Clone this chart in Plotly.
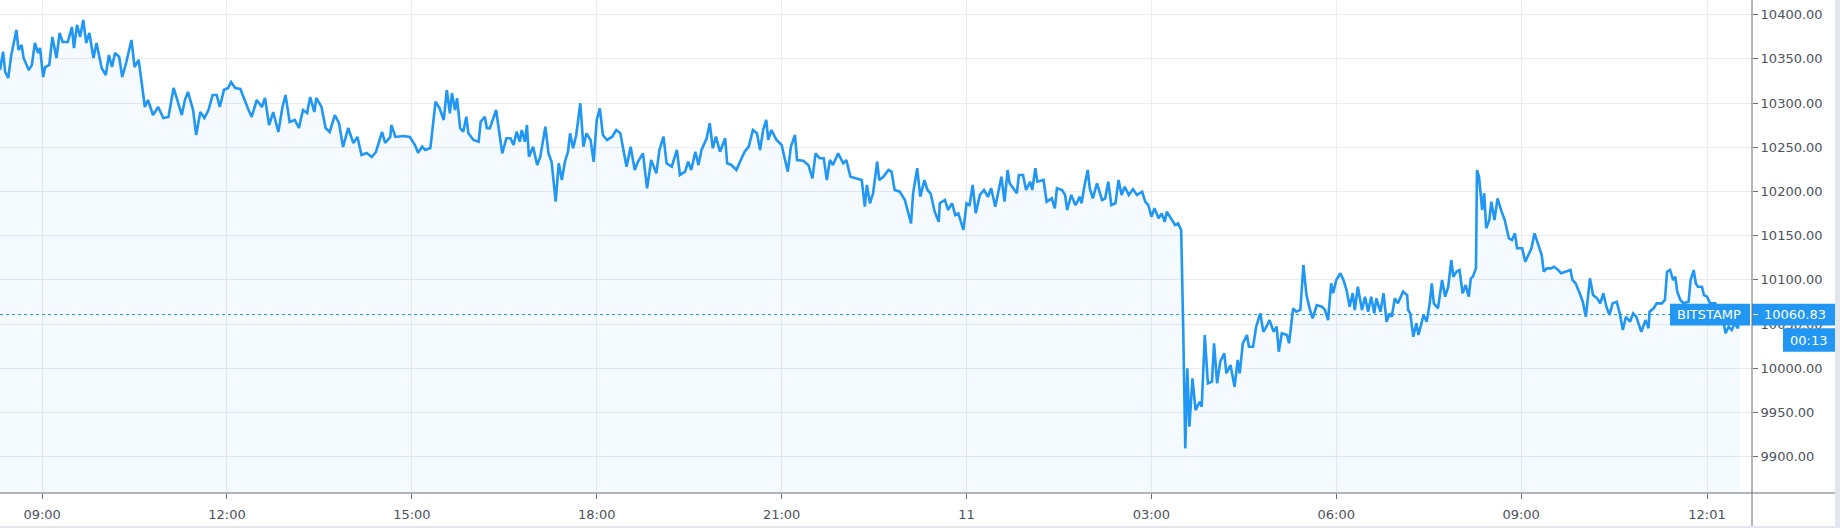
import plotly.graph_objects as go
from datetime import datetime, timedelta

# ---------------- data ----------------
START_DATE = "2019-09-10"

times = [
    "08:19", "08:22", "08:24", "08:27", "08:30", "08:35", "08:37", "08:40", "08:42", "08:47",
    "08:50", "08:53", "08:56", "08:58", "09:01", "09:03", "09:07", "09:10", "09:14", "09:17",
    "09:20", "09:25", "09:29", "09:31", "09:34", "09:37", "09:40", "09:43", "09:46", "09:50",
    "09:53", "09:58", "10:02", "10:05", "10:08", "10:11", "10:15", "10:18", "10:22", "10:27",
    "10:30", "10:34", "10:37", "10:40", "10:43", "10:48", "10:53", "10:58", "11:03", "11:08",
    "11:11", "11:16", "11:19", "11:22", "11:27", "11:30", "11:34", "11:38", "11:42", "11:46",
    "11:50", "11:53", "11:57", "12:01", "12:04", "12:08", "12:13", "12:18", "12:21", "12:24",
    "12:29", "12:34", "12:37", "12:41", "12:45", "12:50", "12:54", "12:57", "13:01", "13:06",
    "13:10", "13:14", "13:18", "13:21", "13:25", "13:27", "13:32", "13:36", "13:40", "13:45",
    "13:49", "13:53", "13:58", "14:03", "14:07", "14:11", "14:16", "14:21", "14:25", "14:31",
    "14:34", "14:39", "14:40", "14:44", "14:52", "14:58", "15:03", "15:06", "15:10", "15:13",
    "15:18", "15:20", "15:23", "15:27", "15:31", "15:34", "15:37", "15:39", "15:42", "15:44",
    "15:47", "15:50", "15:53", "15:55", "16:00", "16:05", "16:07", "16:11", "16:13", "16:16",
    "16:22", "16:25", "16:28", "16:32", "16:36", "16:39", "16:42", "16:45", "16:47", "16:50",
    "16:52", "16:54", "16:58", "17:02", "17:05", "17:10", "17:13", "17:16", "17:20", "17:23",
    "17:26", "17:29", "17:32", "17:34", "17:37", "17:40", "17:44", "17:47", "17:50", "17:54",
    "17:57", "18:00", "18:03", "18:06", "18:10", "18:15", "18:19", "18:23", "18:26", "18:29",
    "18:33", "18:37", "18:40", "18:45", "18:49", "18:53", "18:58", "19:01", "19:05", "19:08",
    "19:13", "19:18", "19:21", "19:26", "19:29", "19:32", "19:36", "19:39", "19:42", "19:47",
    "19:50", "19:53", "19:56", "20:00", "20:05", "20:07", "20:11", "20:16", "20:21", "20:24",
    "20:28", "20:32", "20:36", "20:39", "20:42", "20:45", "20:47", "20:50", "20:55", "21:00",
    "21:06", "21:09", "21:13", "21:15", "21:21", "21:26", "21:30", "21:33", "21:37", "21:41",
    "21:44", "21:47", "21:50", "21:55", "22:00", "22:03", "22:07", "22:13", "22:18", "22:21",
    "22:23", "22:26", "22:29", "22:33", "22:35", "22:39", "22:44", "22:47", "22:50", "22:55",
    "23:00", "23:06", "23:08", "23:12", "23:15", "23:19", "23:22", "23:25", "23:29", "23:33",
    "23:34", "23:39", "23:42", "23:46", "23:49", "23:52", "23:57", "00:00", "00:03", "00:06",
    "00:09", "00:13", "00:17", "00:21", "00:24", "00:28", "00:32", "00:34", "00:37", "00:40",
    "00:42", "00:49", "00:51", "00:55", "00:58", "01:02", "01:04", "01:07", "01:09", "01:15",
    "01:18", "01:23", "01:26", "01:28", "01:33", "01:36", "01:38", "01:42", "01:46", "01:48",
    "01:50", "01:52", "01:55", "01:58", "02:00", "02:03", "02:07", "02:12", "02:15", "02:18",
    "02:21", "02:25", "02:28", "02:31", "02:34", "02:38", "02:42", "02:46", "02:51", "02:54",
    "02:57", "03:00", "03:03", "03:07", "03:10", "03:13", "03:15", "03:20", "03:23", "03:26",
    "03:29", "03:31", "03:33", "03:35", "03:37", "03:40", "03:43", "03:47", "03:49", "03:52",
    "03:55", "03:59", "04:01", "04:04", "04:07", "04:11", "04:13", "04:17", "04:21", "04:24",
    "04:26", "04:29", "04:33", "04:35", "04:39", "04:42", "04:46", "04:49", "04:52", "04:55",
    "04:59", "05:02", "05:04", "05:07", "05:12", "05:14", "05:18", "05:21", "05:25", "05:28",
    "05:31", "05:34", "05:37", "05:41", "05:46", "05:49", "05:52", "05:55", "05:57", "06:00",
    "06:04", "06:07", "06:10", "06:13", "06:16", "06:18", "06:21", "06:25", "06:28", "06:31",
    "06:34", "06:37", "06:39", "06:43", "06:46", "06:49", "06:52", "06:54", "06:57", "07:00",
    "07:05", "07:09", "07:10", "07:12", "07:15", "07:18", "07:20", "07:25", "07:28", "07:31",
    "07:33", "07:35", "07:39", "07:43", "07:46", "07:49", "07:52", "07:54", "07:57", "08:00",
    "08:03", "08:06", "08:09", "08:11", "08:13", "08:16", "08:17", "08:19", "08:22", "08:24",
    "08:26", "08:29", "08:31", "08:34", "08:37", "08:41", "08:44", "08:48", "08:51", "08:54",
    "08:56", "09:01", "09:04", "09:07", "09:10", "09:13", "09:17", "09:20", "09:22", "09:25",
    "09:29", "09:32", "09:36", "09:39", "09:43", "09:48", "09:50", "09:53", "09:57", "10:00",
    "10:03", "10:05", "10:07", "10:10", "10:14", "10:17", "10:20", "10:23", "10:26", "10:29",
    "10:33", "10:36", "10:39", "10:42", "10:46", "10:49", "10:52", "10:57", "11:01", "11:04",
    "11:05", "11:09", "11:12", "11:17", "11:20", "11:22", "11:25", "11:28", "11:30", "11:32",
    "11:35", "11:38", "11:43", "11:45", "11:48", "11:50", "11:52", "11:56", "11:58", "12:01",
    "12:04", "12:09", "12:12", "12:15", "12:19", "12:22", "12:25", "12:28", "12:31", "12:33",
]

prices = [
    10337.4, 10358.2, 10335.5, 10328.4, 10354.4, 10382.7, 10360.1, 10365.7, 10351.0, 10337.4,
    10343.1, 10368.0, 10356.7, 10362.3, 10329.5, 10340.8, 10343.1, 10374.8, 10351.0, 10379.3,
    10369.1, 10369.1, 10386.1, 10362.3, 10388.4, 10374.8, 10394.0, 10368.0, 10379.3, 10351.0,
    10368.0, 10339.7, 10331.8, 10354.4, 10340.8, 10356.7, 10352.2, 10329.5, 10346.5, 10371.4,
    10340.8, 10348.8, 10322.7, 10295.6, 10303.5, 10286.5, 10295.6, 10283.2, 10284.3, 10317.1,
    10305.8, 10286.5, 10303.5, 10312.6, 10292.2, 10263.9, 10289.9, 10283.2, 10292.2, 10309.2,
    10309.2, 10295.6, 10314.8, 10317.1, 10323.9, 10317.1, 10316.0, 10300.1, 10292.2, 10284.3,
    10303.5, 10295.6, 10305.8, 10275.2, 10289.9, 10267.3, 10295.6, 10309.2, 10278.6, 10280.9,
    10271.8, 10292.2, 10288.8, 10306.9, 10289.9, 10305.8, 10295.6, 10271.8, 10267.3, 10286.5,
    10277.5, 10250.3, 10271.8, 10254.9, 10261.7, 10241.3, 10243.6, 10239.0, 10244.7, 10267.3,
    10254.9, 10261.7, 10275.2, 10261.7, 10262.8, 10261.7, 10252.6, 10243.9, 10250.7, 10247.0,
    10249.2, 10269.6, 10301.6, 10294.1, 10280.9, 10314.8, 10288.5, 10311.1, 10292.2, 10305.4,
    10271.5, 10267.6, 10284.6, 10265.8, 10258.3, 10256.3, 10279.0, 10284.6, 10271.5, 10271.5,
    10292.2, 10267.6, 10243.2, 10260.2, 10260.2, 10252.6, 10267.6, 10256.3, 10269.6, 10256.3,
    10275.2, 10239.4, 10250.7, 10230.0, 10239.4, 10273.3, 10243.2, 10233.7, 10188.5, 10231.9,
    10213.0, 10233.7, 10245.0, 10265.8, 10248.9, 10263.9, 10299.8, 10250.7, 10265.8, 10258.3,
    10233.7, 10280.9, 10294.1, 10263.9, 10258.3, 10262.0, 10269.6, 10265.8, 10248.9, 10228.1,
    10250.7, 10224.3, 10233.7, 10243.2, 10203.6, 10235.6, 10220.6, 10247.0, 10262.0, 10231.9,
    10228.1, 10247.0, 10218.7, 10222.4, 10233.7, 10224.3, 10245.0, 10230.0, 10247.0, 10260.2,
    10277.2, 10248.9, 10262.0, 10245.0, 10260.2, 10231.9, 10230.0, 10224.3, 10237.6, 10245.0,
    10250.7, 10269.6, 10265.8, 10247.0, 10269.6, 10280.9, 10258.3, 10269.6, 10258.3, 10252.6,
    10222.4, 10250.7, 10263.9, 10235.6, 10234.9, 10230.0, 10214.9, 10243.2, 10237.6, 10237.6,
    10213.0, 10235.6, 10230.0, 10243.2, 10231.9, 10235.6, 10216.7, 10214.9, 10213.0, 10182.8,
    10207.4, 10186.7, 10198.0, 10233.7, 10213.0, 10216.7, 10224.3, 10222.4, 10201.7, 10199.8,
    10190.4, 10164.0, 10198.0, 10226.3, 10194.1, 10213.0, 10201.7, 10198.0, 10177.2, 10165.8,
    10186.7, 10190.4, 10179.1, 10186.7, 10173.4, 10175.3, 10156.5, 10186.7, 10184.7, 10207.4,
    10175.3, 10196.1, 10201.7, 10194.1, 10203.6, 10182.8, 10205.4, 10216.7, 10188.5, 10224.3,
    10209.3, 10198.0, 10218.7, 10218.7, 10201.7, 10211.1, 10201.7, 10226.3, 10211.1, 10213.0,
    10188.5, 10192.3, 10181.0, 10203.6, 10201.7, 10196.1, 10179.1, 10196.1, 10184.7, 10188.5,
    10194.1, 10186.7, 10207.4, 10224.3, 10203.6, 10192.3, 10209.3, 10190.4, 10192.3, 10211.1,
    10184.7, 10186.7, 10213.0, 10196.1, 10205.4, 10196.1, 10202.5, 10196.1, 10199.8, 10188.5,
    10184.7, 10171.5, 10181.0, 10169.7, 10175.3, 10165.8, 10177.2, 10167.8, 10162.1, 10164.0,
    10156.5, 10043.3, 9909.5, 10000.0, 9933.9, 9988.7, 9952.8, 9962.2, 9956.6, 10037.7,
    9983.0, 9984.9, 10028.3, 9983.0, 10007.5, 10017.0, 9994.4, 10003.7, 9979.2, 10009.4,
    9994.4, 10028.3, 10037.7, 10024.4, 10024.4, 10047.1, 10062.2, 10041.4, 10047.1, 10054.6,
    10041.4, 10047.1, 10018.8, 10039.6, 10037.7, 10028.3, 10067.9, 10064.0, 10066.0, 10116.9,
    10082.9, 10067.9, 10056.6, 10071.6, 10069.7, 10066.0, 10054.6, 10096.2, 10084.9, 10099.9,
    10107.5, 10099.9, 10088.6, 10069.7, 10084.9, 10066.0, 10092.3, 10066.0, 10081.0, 10064.0,
    10081.0, 10062.2, 10079.2, 10064.0, 10084.9, 10052.7, 10062.2, 10058.4, 10079.2, 10073.5,
    10086.7, 10082.9, 10066.0, 10062.2, 10035.7, 10050.9, 10037.7, 10060.3, 10052.7, 10073.5,
    10096.2, 10073.5, 10067.9, 10099.9, 10081.0, 10092.3, 10122.5, 10103.6, 10109.3, 10111.2,
    10084.9, 10094.2, 10081.0, 10101.8, 10103.6, 10113.1, 10224.3, 10216.7, 10179.1, 10198.0,
    10158.4, 10167.8, 10188.5, 10167.8, 10192.3, 10177.2, 10167.8, 10147.1, 10145.1, 10152.7,
    10135.8, 10135.8, 10120.6, 10128.2, 10135.8, 10152.7, 10137.6, 10128.2, 10109.3, 10113.1,
    10113.1, 10114.9, 10111.2, 10107.5, 10109.3, 10111.2, 10099.9, 10096.2, 10084.9, 10075.4,
    10058.4, 10079.2, 10101.8, 10082.9, 10079.2, 10073.5, 10084.9, 10069.7, 10060.3, 10073.5,
    10075.4, 10062.2, 10043.3, 10058.4, 10052.7, 10062.2, 10058.4, 10041.4, 10054.6, 10045.3,
    10064.0, 10067.9, 10073.5, 10073.5, 10077.3, 10109.3, 10111.2, 10099.9, 10103.6, 10086.7,
    10077.3, 10073.5, 10075.4, 10099.9, 10111.2, 10096.2, 10092.3, 10092.3, 10082.9, 10081.0,
    10073.5, 10073.5, 10062.2, 10064.0, 10039.6, 10047.1, 10043.3, 10050.9, 10045.3, 10060.83,
]

x_tick_times = ["2019-09-10 09:00", "2019-09-10 12:00", "2019-09-10 15:00",
                "2019-09-10 18:00", "2019-09-10 21:00", "2019-09-11 00:00",
                "2019-09-11 03:00", "2019-09-11 06:00", "2019-09-11 09:00",
                "2019-09-11 12:01"]
x_tick_labels = ["09:00", "12:00", "15:00", "18:00", "21:00", "11",
                 "03:00", "06:00", "09:00", "12:01"]
y_ticks = [9900, 9950, 10000, 10050, 10100, 10150, 10200, 10250, 10300, 10350, 10400]
x_range = ["2019-09-10 08:19:00", "2019-09-11 12:44:45"]
y_range = [9859.0, 10416.6]

exchange_label = "BITSTAMP"
countdown_label = "00:13"

# ---------------- build timestamps ----------------
day = datetime.strptime(START_DATE, "%Y-%m-%d")
stamps = []
prev = None
for t in times:
    h, m = map(int, t.split(":"))
    mins = h * 60 + m
    if prev is not None and mins < prev:
        day += timedelta(days=1)
    prev = mins
    stamps.append(day + timedelta(minutes=mins))

last_price = prices[-1]

# ---------------- figure ----------------
W, H = 1840, 528
M_R, M_B = 88, 35
PW = W - M_R          # plot width in px
PH = H - M_B          # plot height in px

BLUE = "#2196F3"
AXIS = "#6a6d78"
GRID = "#e9edf3"
TXT = "#4c525e"
FONT = "DejaVu Sans"

fig = go.Figure()
fig.add_trace(go.Scatter(
    x=stamps, y=prices, mode="lines",
    line=dict(color=BLUE, width=2.6),
    fill="tozeroy", fillcolor="rgba(33,150,243,0.05)",
    hoverinfo="skip", showlegend=False,
))

def px_x(p):
    return p / PW

shapes = [
    # last-price dotted line
    dict(type="line", xref="paper", yref="y", x0=0, x1=1, y0=last_price, y1=last_price,
         line=dict(color=BLUE, width=1, dash="dot"), layer="above"),
    # exchange label box
    dict(type="rect", xref="paper", yref="y", x0=px_x(PW - 82), x1=px_x(PW - 2),
         y0=last_price - 12.3, y1=last_price + 12.3, fillcolor=BLUE, line=dict(width=0),
         layer="above"),
    # price label box
    dict(type="rect", xref="paper", yref="y", x0=1.0, x1=px_x(PW + 83),
         y0=last_price - 12.3, y1=last_price + 12.3, fillcolor=BLUE, line=dict(width=0),
         layer="above"),
    # tick inside price box
    dict(type="line", xref="paper", yref="y", x0=px_x(PW + 1), x1=px_x(PW + 6),
         y0=last_price, y1=last_price, line=dict(color="white", width=1), layer="above"),
    # countdown box
    dict(type="rect", xref="paper", yref="y", x0=px_x(PW + 31), x1=px_x(PW + 83),
         y0=last_price - 42.0, y1=last_price - 15.6, fillcolor=BLUE, line=dict(width=0),
         layer="above"),
    # axis lines spanning the whole frame
    dict(type="line", xref="paper", yref="paper", x0=1, x1=1, y0=-(M_B + 2) / PH, y1=1.01,
         line=dict(color=AXIS, width=1), layer="above"),
    dict(type="line", xref="paper", yref="paper", x0=0, x1=px_x(PW + 83), y0=0, y1=0,
         line=dict(color=AXIS, width=1), layer="above"),
    # thin frame strips at right / bottom
    dict(type="rect", xref="paper", yref="paper", x0=px_x(PW + 83), x1=px_x(W + 2),
         y0=-(M_B + 2) / PH, y1=1.01, fillcolor="#e3e6ec", line=dict(width=0), layer="above"),
    dict(type="rect", xref="paper", yref="paper", x0=0, x1=px_x(W + 2),
         y0=-(M_B + 2) / PH, y1=-(M_B - 2) / PH, fillcolor="#e3e6ec", line=dict(width=0),
         layer="above"),
]

annotations = [
    dict(text=exchange_label, xref="paper", yref="y", x=1, y=last_price,
         xanchor="right", yanchor="middle", xshift=-9, showarrow=False,
         font=dict(family=FONT, size=13, color="white")),
    dict(text=f"{last_price:.2f}", xref="paper", yref="y", x=1, y=last_price,
         xanchor="left", yanchor="middle", xshift=10, showarrow=False,
         font=dict(family=FONT, size=13, color="white")),
    dict(text=countdown_label, xref="paper", yref="y", x=1, y=last_price - 28.8,
         xanchor="left", yanchor="middle", xshift=36, showarrow=False,
         font=dict(family=FONT, size=13, color="white")),
]

fig.update_layout(
    width=W, height=H,
    margin=dict(l=0, r=M_R, t=0, b=M_B, pad=0),
    paper_bgcolor="white", plot_bgcolor="white",
    showlegend=False, hovermode=False,
    font=dict(family=FONT, size=13, color=TXT),
    shapes=shapes, annotations=annotations,
    xaxis=dict(
        type="date", range=x_range,
        tickmode="array", tickvals=x_tick_times, ticktext=x_tick_labels,
        ticks="outside", ticklen=5, tickcolor=AXIS, tickwidth=1,
        ticklabelstandoff=4,
        showgrid=True, gridcolor=GRID, gridwidth=1,
        showline=False, zeroline=False,
        tickfont=dict(family=FONT, size=13, color=TXT),
    ),
    yaxis=dict(
        side="right", range=y_range,
        tickmode="array", tickvals=y_ticks, tickformat=".2f",
        ticks="outside", ticklen=5, tickcolor=AXIS, tickwidth=1,
        showgrid=True, gridcolor=GRID, gridwidth=1,
        showline=False, zeroline=False,
        tickfont=dict(family=FONT, size=13, color=TXT),
    ),
)

fig.write_html(
    "out.html",
    config={"displayModeBar": False},
    post_script="document.body.style.margin='0px';document.body.style.padding='0px';",
)
